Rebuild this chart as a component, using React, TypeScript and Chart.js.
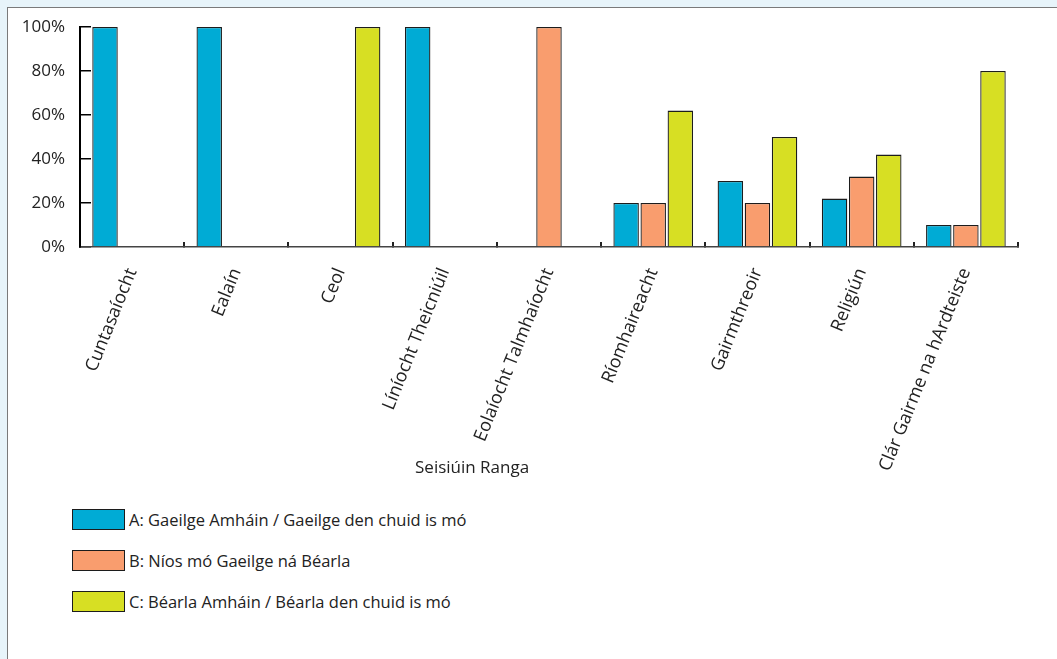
import React, { useEffect, useRef } from "react";
import { Chart, registerables } from "chart.js";

Chart.register(...registerables);

const categories = [
  "Cuntasaíocht",
  "Ealaín",
  "Ceol",
  "Líníocht Theicniúil",
  "Eolaíocht Talmhaíocht",
  "Ríomhaireacht",
  "Gairmthreoir",
  "Religiún",
  "Clár Gairme na hArdteiste",
];
const seriesA = [100, 100, 0, 100, 0, 20, 30, 22, 10];
const seriesB = [0, 0, 0, 0, 100, 20, 20, 32, 10];
const seriesC = [0, 0, 100, 0, 0, 62, 50, 42, 80];
const seriesLabels = [
  "A: Gaeilge Amháin / Gaeilge den chuid is mó",
  "B: Níos mó Gaeilge ná Béarla",
  "C: Béarla Amháin / Béarla den chuid is mó",
];
const seriesColors = ["#00abd5", "#f99d6e", "#d7df23"];
const yTickValues = [0, 20, 40, 60, 80, 100];
const xAxisTitle = "Seisiúin Ranga";

const FONT = '"Open Sans", "DejaVu Sans", sans-serif';
const TEXT = "#222222";

const axisTitlePlugin = {
  id: "axisTitle",
  afterDraw(chart: any) {
    const { ctx, chartArea } = chart;
    ctx.save();
    ctx.font = `17px ${FONT}`;
    ctx.fillStyle = TEXT;
    ctx.textAlign = "center";
    ctx.textBaseline = "middle";
    ctx.fillText(
      xAxisTitle,
      chartArea.left + (chartArea.right - chartArea.left) * 0.418,
      chartArea.bottom + 221
    );
    ctx.restore();
  },
};

export default function App() {
  const canvasRef = useRef<HTMLCanvasElement | null>(null);

  useEffect(() => {
    const canvas = canvasRef.current;
    if (!canvas) return;
    const seriesData = [seriesA, seriesB, seriesC];
    const chart = new Chart(canvas, {
      type: "bar",
      data: {
        labels: categories,
        datasets: seriesData.map((d, i) => ({
          label: seriesLabels[i],
          data: d,
          backgroundColor: seriesColors[i],
          borderColor: "#1c1c1c",
          borderWidth: 1.3,
          categoryPercentage: 0.78,
          barPercentage: 0.94,
        })),
      },
      options: {
        responsive: false,
        animation: false,
        devicePixelRatio: 1,
        layout: { padding: { top: 19, right: 39, bottom: 0, left: 0 } },
        plugins: {
          legend: { display: false },
          tooltip: { enabled: false },
          title: { display: false },
        },
        scales: {
          x: {
            offset: true,
            afterFit: (s: any) => {
              s.height = 241;
            },
            border: { display: true, color: "#444444", width: 1.5 },
            grid: {
              offset: true,
              drawOnChartArea: false,
              drawTicks: true,
              tickLength: -5,
              color: "#222222",
              lineWidth: 2,
            },
            ticks: {
              autoSkip: false,
              minRotation: 68,
              maxRotation: 68,
              padding: 23,
              color: TEXT,
              font: { family: FONT, size: 18 },
            },
          },
          y: {
            min: 0,
            max: 100,
            afterFit: (s: any) => {
              s.width = 72;
              s.paddingTop = 0;
              s.paddingBottom = 0;
            },
            afterBuildTicks: (s: any) => {
              s.ticks = yTickValues.map((v) => ({ value: v }));
            },
            border: { display: true, color: "#000000", width: 2 },
            grid: {
              drawOnChartArea: false,
              drawTicks: true,
              tickLength: -11,
              color: "#000000",
              lineWidth: 1.5,
            },
            ticks: {
              padding: 26,
              color: TEXT,
              font: { family: FONT, size: 17 },
              callback: (v: any) => `${v}%`,
            },
          },
        },
      },
      plugins: [axisTitlePlugin],
    });
    return () => chart.destroy();
  }, []);

  return (
    <div
      style={{
        position: "fixed",
        inset: 0,
        background: "#e7f4fa",
        overflow: "hidden",
      }}
    >
      <div
        style={{
          position: "absolute",
          left: 7,
          top: 7,
          width: 1100,
          height: 700,
          background: "#ffffff",
          borderTop: "1px solid #7a7a7a",
          borderLeft: "1px solid #7a7a7a",
        }}
      >
        <canvas
          ref={canvasRef}
          width={1049}
          height={480}
          style={{ position: "absolute", left: 0, top: 0, width: 1049, height: 480 }}
        />
        <div
          style={{
            position: "absolute",
            left: 64,
            top: 501,
            display: "flex",
            flexDirection: "column",
            gap: 20,
            fontFamily: FONT,
            fontSize: 16.5,
            color: TEXT,
          }}
        >
          {seriesLabels.map((lab, i) => (
            <div key={lab} style={{ display: "flex", alignItems: "center", height: 21 }}>
              <span
                style={{
                  display: "inline-block",
                  width: 51,
                  height: 19,
                  background: seriesColors[i],
                  border: "1px solid #1c1c1c",
                  marginRight: 4,
                }}
              />
              <span style={{ lineHeight: "21px" }}>{lab}</span>
            </div>
          ))}
        </div>
      </div>
    </div>
  );
}
